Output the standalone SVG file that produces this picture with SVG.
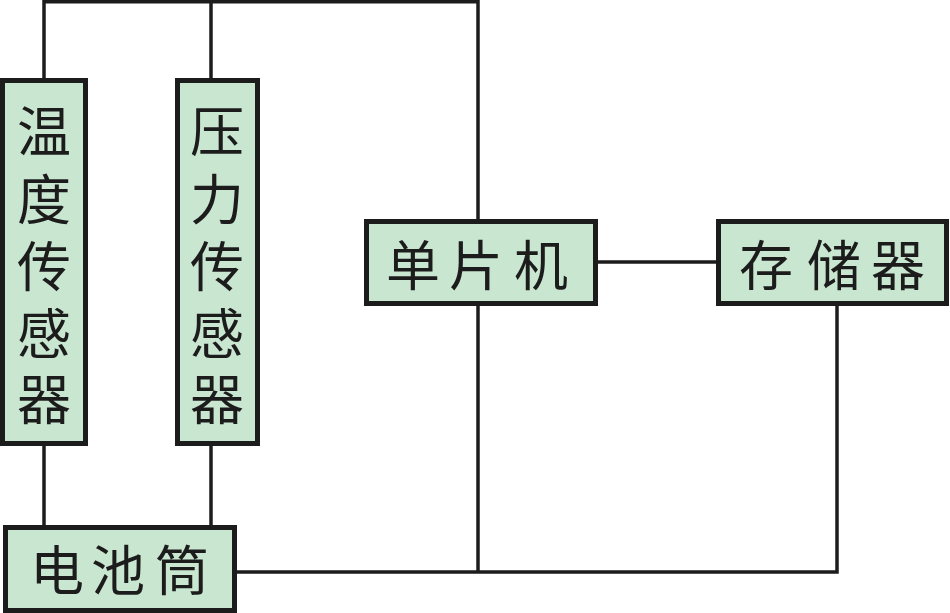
<svg xmlns="http://www.w3.org/2000/svg" width="950" height="613" viewBox="0 0 950 613">
<style>
.box{fill:#c9e6d0;stroke:#1c1c1c;stroke-width:5}
.ln{fill:none;stroke:#1c1c1c;stroke-width:3.5}
.t{font-family:"Noto Sans CJK SC","Noto Sans CJK TC",sans-serif;font-size:54px;fill:#1c1c1c;text-anchor:middle;dominant-baseline:central}
</style>
<rect width="950" height="613" fill="#ffffff"/>
<g id="connectors">
<polyline class="ln" points="44,78 44,1.75 478,1.75 478,219"/>
<line class="ln" x1="211" y1="1.75" x2="211" y2="78"/>
<line class="ln" x1="44" y1="446" x2="44" y2="525"/>
<line class="ln" x1="211" y1="446" x2="211" y2="525"/>
<line class="ln" x1="598" y1="262" x2="716" y2="262"/>
<polyline class="ln" points="478,306 478,572"/>
<polyline class="ln" points="237,572 837,572 837,306"/>
</g>
<g id="temp-sensor">
<rect class="box" x="2.5" y="80.5" width="83" height="363"/>
<text class="t" x="44 44 44 44 44" y="128 196 263 330 396">温度传感器</text>
</g>
<g id="pressure-sensor">
<rect class="box" x="177.5" y="80.5" width="80" height="363"/>
<text class="t" x="217 217 217 217 217" y="128 196 263 330 396">压力传感器</text>
</g>
<g id="mcu">
<rect class="box" x="366.5" y="221.5" width="229" height="82"/>
<text class="t" x="413 476 541" y="262">单片机</text>
</g>
<g id="storage">
<rect class="box" x="718.5" y="221.5" width="228" height="82"/>
<text class="t" x="766 834 898" y="262">存储器</text>
</g>
<g id="battery">
<rect class="box" x="5.5" y="527.5" width="229" height="83"/>
<text class="t" x="57 118 182" y="567">电池筒</text>
</g>
</svg>
